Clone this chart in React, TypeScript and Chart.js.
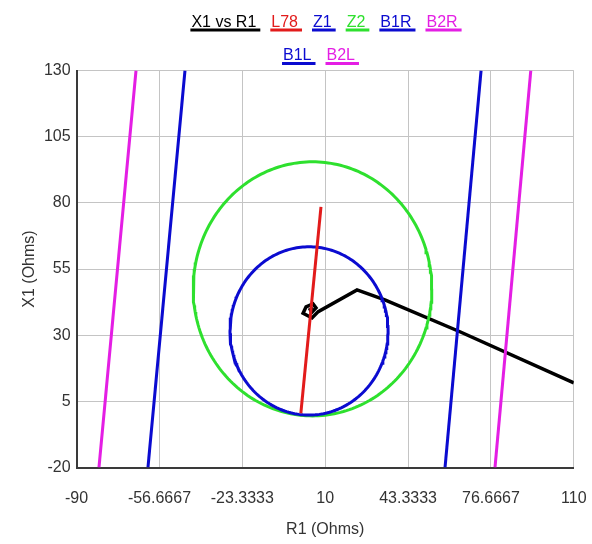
import React, { useEffect, useRef } from "react";
import { Chart, registerables } from "chart.js";

Chart.register(...registerables);

// ---- data ----
const seriesLabels = ["X1 vs R1", "L78", "Z1", "Z2", "B1R", "B2R", "B1L", "B2L"];
const seriesColors = ["#000000", "#e21b1b", "#0b0bd0", "#2ee02e", "#0b0bd0", "#e41ee4", "#0b0bd0", "#e41ee4"];

// impedance trajectory (R1, X1)
const trajR = [110, 64.2, 34.0, 22.8, 7.2, 4.7, 1.1, 2.3, 5.1, 6.3, 4.6, 4.0, 5.2];
const trajX = [12, 31.3, 43.3, 47.1, 38.9, 36.5, 38.3, 40.7, 41.8, 40.3, 38.6, 39.6, 40.0];

// line impedance L78
const lineR = [0.2, 8.3];
const lineX = [0.5, 78.5];

// mho zones: Z1, Z2
const mhoCenterR = [3.5, 4.9];
const mhoCenterX = [31.6, 47.5];
const mhoRadius = [31.8, 48];

// blinders (R at X = -20 and X = 130)
const blinderX = [-20, 130];
const b1rR = [58.2, 72.7];
const b2rR = [78.3, 92.7];
const b1lR = [-61.3, -46.4];
const b2lR = [-81.0, -66.1];

// axis ticks
const xTicks = [-90, -56.6667, -23.3333, 10, 43.3333, 76.6667, 110];
const xTickLabels = ["-90", "-56.6667", "-23.3333", "10", "43.3333", "76.6667", "110"];
const yTicks = [-20, 5, 30, 55, 80, 105, 130];
const yTickLabels = ["-20", "5", "30", "55", "80", "105", "130"];

const FONT = '"Liberation Sans", Arial, sans-serif';

function pairs(rs: number[], xs: number[]) {
  return rs.map((r, i) => ({ x: r, y: xs[i] }));
}

function circle(i: number) {
  const pts: { x: number; y: number }[] = [];
  const n = 240;
  for (let k = 0; k <= n; k++) {
    const a = (k / n) * Math.PI * 2;
    pts.push({ x: mhoCenterR[i] + mhoRadius[i] * Math.cos(a), y: mhoCenterX[i] + mhoRadius[i] * Math.sin(a) });
  }
  return pts;
}

const underlineLegend = {
  id: "underlineLegend",
  afterDraw(chart: any) {
    const ctx = chart.ctx as CanvasRenderingContext2D;
    ctx.save();
    ctx.font = "16px " + FONT;
    ctx.textBaseline = "alphabetic";
    const pad = 2;
    const gap = 11;
    const maxRow = 300;
    const items = chart.data.datasets.map((ds: any) => ({
      label: ds.label as string,
      color: ds.borderColor as string,
      w: ctx.measureText(ds.label).width,
    }));
    const rows: any[][] = [[]];
    let rowW = 0;
    items.forEach((it: any) => {
      const iw = it.w + 2 * pad;
      const cur = rows[rows.length - 1];
      if (cur.length && rowW + gap + iw > maxRow) {
        rows.push([it]);
        rowW = iw;
      } else {
        rowW += (cur.length ? gap : 0) + iw;
        cur.push(it);
      }
    });
    const centers = [325.5, 320];
    rows.forEach((row, ri) => {
      const total = row.reduce((s: number, it: any) => s + it.w + 2 * pad, 0) + gap * (row.length - 1);
      let x = (centers[ri] ?? 323) - total / 2;
      const base = 26.5 + ri * 33.5;
      row.forEach((it: any) => {
        ctx.fillStyle = it.color;
        ctx.fillText(it.label, x + pad - 1, base);
        ctx.fillRect(x, base + 2, it.w + 2 * pad + 1, 3);
        x += it.w + 2 * pad + gap;
      });
    });
    ctx.restore();
  },
};

export default function App() {
  const ref = useRef<HTMLCanvasElement | null>(null);

  useEffect(() => {
    document.body.style.margin = "0";
    const canvas = ref.current!;
    const line = (i: number, data: any[], order = 0, width = 3) => ({
      label: seriesLabels[i],
      data,
      borderColor: seriesColors[i],
      backgroundColor: seriesColors[i],
      borderWidth: width,
      showLine: true,
      pointRadius: 0,
      pointHoverRadius: 0,
      tension: 0,
      fill: false,
      order,
    });
    const chart = new Chart(canvas, {
      type: "scatter",
      data: {
        datasets: [
          line(0, pairs(trajR, trajX), 1, 3.5),
          line(1, pairs(lineR, lineX)),
          line(2, circle(0)),
          line(3, circle(1)),
          line(4, pairs(b1rR, blinderX)),
          line(5, pairs(b2rR, blinderX)),
          line(6, pairs(b1lR, blinderX)),
          line(7, pairs(b2lR, blinderX)),
        ],
      },
      options: {
        animation: false,
        responsive: false,
        maintainAspectRatio: false,
        layout: { padding: { top: 70.5, right: 18.2, bottom: 0, left: 0 } },
        plugins: { legend: { display: false }, tooltip: { enabled: false } },
        scales: {
          x: {
            type: "linear",
            min: -90,
            max: 110,
            afterBuildTicks: (s: any) => {
              s.ticks = xTicks.map((v) => ({ value: v }));
            },
            afterFit: (s: any) => {
              s.height = 76.5;
              s.paddingLeft = 0;
              s.paddingRight = 0;
            },
            ticks: {
              autoSkip: false,
              maxRotation: 0,
              padding: 21,
              color: "#333333",
              font: { family: FONT, size: 16 },
              callback: (_v: any, i: number) => xTickLabels[i],
            },
            grid: { color: "#c4c4c4", lineWidth: 1, drawTicks: false },
            border: { color: "#3a3a3a", width: 2 },
            title: {
              display: true,
              text: "R1 (Ohms)",
              color: "#333333",
              font: { family: FONT, size: 16 },
              padding: { top: 0, bottom: 4.4 },
            },
          },
          y: {
            type: "linear",
            min: -20,
            max: 130,
            afterBuildTicks: (s: any) => {
              s.ticks = yTicks.map((v) => ({ value: v }));
            },
            afterFit: (s: any) => {
              s.width = 76.6;
              s.paddingTop = 0;
              s.paddingBottom = 0;
            },
            ticks: {
              autoSkip: false,
              padding: 6,
              color: "#333333",
              font: { family: FONT, size: 16 },
              callback: (_v: any, i: number) => yTickLabels[i],
            },
            grid: { color: "#c4c4c4", lineWidth: 1, drawTicks: false },
            border: { color: "#3a3a3a", width: 2 },
            title: {
              display: true,
              text: "X1 (Ohms)",
              color: "#333333",
              font: { family: FONT, size: 16 },
              padding: { top: 20, bottom: 0 },
            },
          },
        },
      },
      plugins: [underlineLegend],
    });
    return () => chart.destroy();
  }, []);

  return (
    <div style={{ width: 592, height: 544, background: "#ffffff" }}>
      <canvas ref={ref} width={592} height={544} style={{ display: "block" }} />
    </div>
  );
}
